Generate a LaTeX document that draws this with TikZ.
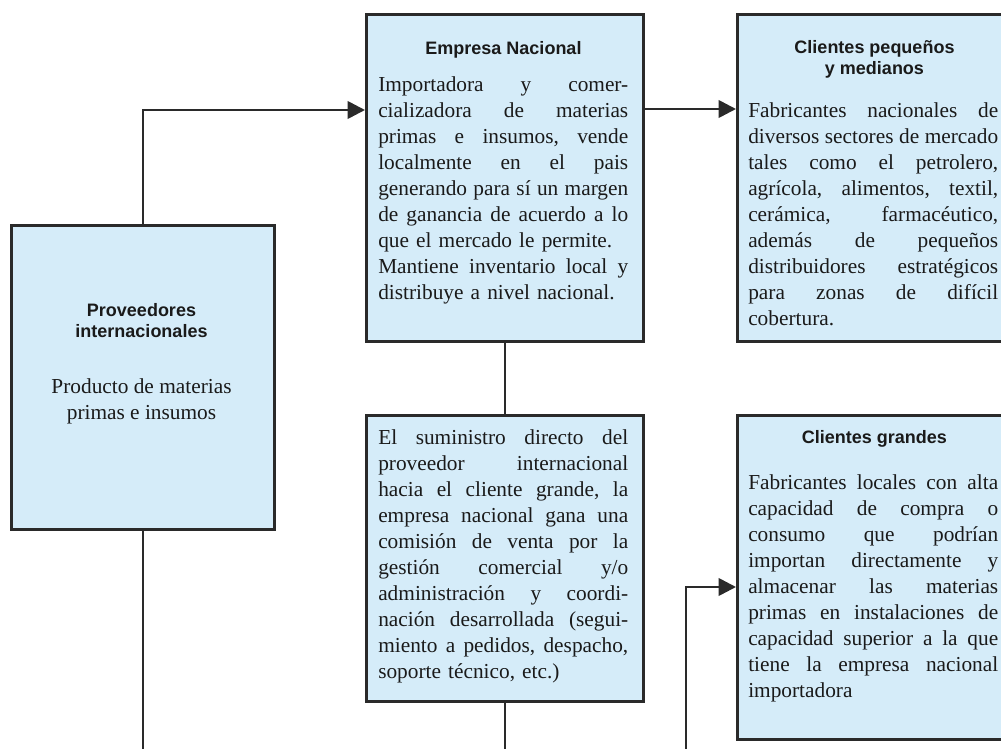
\documentclass[tikz,border=0pt]{standalone}
\usepackage{fontspec}
\setmainfont{Liberation Serif}
\newfontfamily\hv{Liberation Sans}
\usetikzlibrary{arrows.meta,calc}
\definecolor{boxfill}{HTML}{D5ECF9}
\definecolor{edge}{HTML}{2A2A2A}
\definecolor{ink}{HTML}{1A1A1A}
\newlength\jw
\newcommand\jl[1]{\makebox[\jw][s]{#1}\\}
\newcommand\hs{\hspace{0pt plus 1fill}}
\begin{document}
\begin{tikzpicture}[x=0.75pt,y=-0.75pt,
  box/.style={draw=edge,fill=boxfill,line width=2pt,inner sep=0pt,anchor=north west},
  ttl/.style={font=\hv\bfseries\fontsize{13.5}{16}\selectfont,text=ink,align=center,inner sep=0pt,anchor=north},
  body/.style={font=\fontsize{16}{19.5}\selectfont,text=ink,text width=187.5pt,align=left,inner sep=0pt,anchor=north west},
  ctext/.style={font=\fontsize{16}{19.5}\selectfont,text=ink,align=center,inner sep=0pt,anchor=north},
  conn/.style={draw=edge,line width=2pt},
  arr/.style={conn,-{Triangle[length=13pt,width=13pt]}}]
\clip (0,0) rectangle (1001,749);
\fill[white] (0,0) rectangle (1001,749);
% boxes
\node[box,minimum width=263*0.75pt,minimum height=304*0.75pt] (b1) at (10,224) {};
\node[box,minimum width=277*0.75pt,minimum height=327*0.75pt] (b2) at (365,13) {};
\node[box,minimum width=277*0.75pt,minimum height=327*0.75pt] (b3) at (736,13) {};
\node[box,minimum width=277*0.75pt,minimum height=286*0.75pt] (b4) at (365,414) {};
\node[box,minimum width=277*0.75pt,minimum height=324*0.75pt] (b5) at (736,414) {};
% box 1
\node[ttl] (t1) at (141.5,303) {Proveedores\\internacionales};
\node[ctext] (x1) at (141.5,378) {Producto de materias\\primas e insumos};
% box 2
\node[ttl] (t2) at (503.5,41) {Empresa Nacional};
\node[body] (x2) at (378,76.5) {\setlength\jw{187.5pt}%
\jl{Importadora\hs y\hs comer-}%
\jl{cializadora\hs de\hs materias}%
\jl{primas\hs e\hs insumos,\hs vende}%
\jl{localmente\hs en\hs el\hs pais}%
\jl{generando\hs para\hs sí\hs un\hs margen}%
\jl{de\hs ganancia\hs de\hs acuerdo\hs a\hs lo}%
que el mercado le permite.\\
\jl{Mantiene\hs inventario\hs local\hs y}%
distribuye a nivel nacional.};
% box 3
\node[ttl] (t3) at (874.5,40) {Clientes pequeños\\y medianos};
\node[body] (x3) at (748,102) {\setlength\jw{187.5pt}%
\jl{Fabricantes\hs nacionales\hs de}%
\jl{diversos\hs sectores\hs de\hs mercado}%
\jl{tales\hs como\hs el\hs petrolero,}%
\jl{agrícola,\hs alimentos,\hs textil,}%
\jl{cerámica,\hs farmacéutico,}%
\jl{además\hs de\hs pequeños}%
\jl{distribuidores\hs estratégicos}%
\jl{para\hs zonas\hs de\hs difícil}%
cobertura.};
% box 4
\node[body] (x4) at (378,429) {\setlength\jw{187.5pt}%
\jl{El\hs suministro\hs directo\hs del}%
\jl{proveedor\hs internacional}%
\jl{hacia\hs el\hs cliente\hs grande,\hs la}%
\jl{empresa\hs nacional\hs gana\hs una}%
\jl{comisión\hs de\hs venta\hs por\hs la}%
\jl{gestión\hs comercial\hs y/o}%
\jl{administración\hs y\hs coordi-}%
\jl{nación\hs desarrollada\hs (segui-}%
\jl{miento\hs a\hs pedidos,\hs despacho,}%
soporte técnico, etc.)};
% box 5
\node[ttl] (t5) at (874.5,430) {Clientes grandes};
\node[body] (x5) at (748,474.5) {\setlength\jw{187.5pt}%
\jl{Fabricantes\hs locales\hs con\hs alta}%
\jl{capacidad\hs de\hs compra\hs o}%
\jl{consumo\hs que\hs podrían}%
\jl{importan\hs directamente\hs y}%
\jl{almacenar\hs las\hs materias}%
\jl{primas\hs en\hs instalaciones\hs de}%
\jl{capacidad\hs superior\hs a\hs la\hs que}%
\jl{tiene\hs la\hs empresa\hs nacional}%
importadora};
% connectors
\coordinate (a2) at ($(b2.north west)+(0,97)$);
\coordinate (a3) at ($(b3.north west)+(0,96)$);
\coordinate (a5) at ($(b5.north west)+(0,173)$);
\coordinate (e1) at ($(b1.south)+(0,230)$);
\coordinate (e4) at ($(b4.south)+(0,60)$);
\coordinate (e5) at ($(b5.south west)+(-50,20)$);
\draw[arr] (b1.north) |- (a2);
\draw[arr] (b2.east |- a3) -- (a3);
\draw[conn] (b2.south) -- (b4.north);
\draw[conn] (b1.south) -- (e1);
\draw[conn] (b4.south) -- (e4);
\draw[arr] (e5) |- (a5);
\end{tikzpicture}
\end{document}
